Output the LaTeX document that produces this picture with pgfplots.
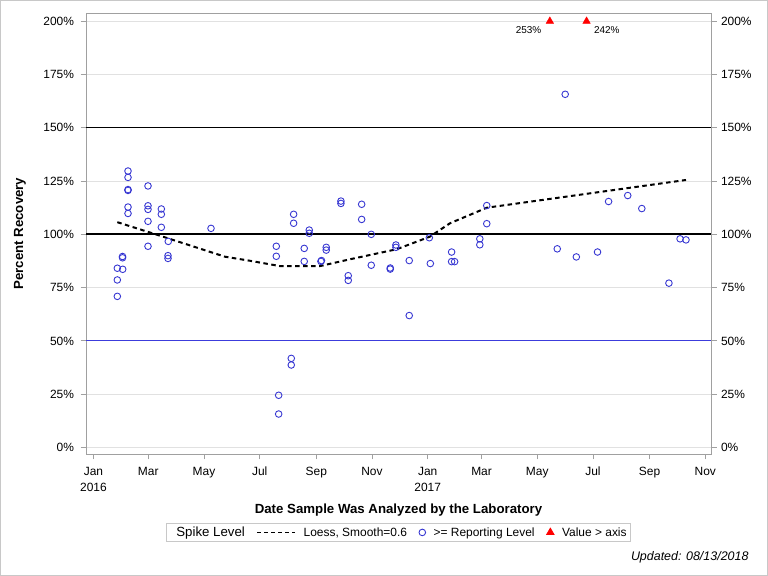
\documentclass[border=0pt]{standalone}
\usepackage{fontspec}
\setmainfont{Liberation Sans}
\usepackage{pgfplots}
\pgfplotsset{compat=1.18}
\definecolor{cblue}{RGB}{55,55,210}
\definecolor{lblue}{RGB}{60,60,220}
\definecolor{framec}{RGB}{160,160,160}
\definecolor{gridc}{RGB}{225,225,225}
\definecolor{legc}{RGB}{200,200,200}
\begin{document}
\begin{tikzpicture}[x=1bp,y=1bp]
\useasboundingbox (0,0) rectangle (768,576);
\draw[legc, line width=1.2bp] (0.6,0.6) rectangle (767.4,575.4);
\begin{axis}[
  at={(86bp,122bp)}, anchor=south west,
  scale only axis, width=625bp, height=440.7bp,
  xmin=-8.2, xmax=676.3, ymin=-3.05, ymax=203.7,
  axis line style={framec, line width=0.9bp},
  tick style={framec, line width=0.9bp},
  tick align=outside, major tick length=5.5bp,
  /pgf/number format/assume math mode=true,
  xtick={0,60,121,182,244,305,366,425,486,547,609,670},
  xticklabels={\strut Jan\\2016,\strut Mar,\strut May,\strut Jul,\strut Sep,\strut Nov,\strut Jan\\2017,\strut Mar,\strut May,\strut Jul,\strut Sep,\strut Nov},
  xticklabel style={align=center, font=\fontsize{12}{16}\selectfont, anchor=north},
  xticklabel shift=1.5bp,
  ytick={0,25,...,200},
  yticklabels={0\%,25\%,50\%,75\%,100\%,125\%,150\%,175\%,200\%},
  yticklabel style={font=\fontsize{12}{14}\selectfont, xshift=-3bp},
  ytick pos=left, xtick pos=bottom,
  ymajorgrids, grid style={gridc, line width=1bp},
  xlabel={Date Sample Was Analyzed by the Laboratory},
  ylabel={Percent Recovery},
  label style={font=\fontsize{13.3}{16}\selectfont\bfseries},
  xlabel style={at={(axis description cs:0.5,-0.127)}, anchor=center},
  ylabel style={at={(axis description cs:-0.1056,0.5)}, anchor=center},
  legend columns=4,
  legend cell align=left,
  legend style={at={(0.5,-0.178)}, anchor=center, draw=legc, line width=0.8bp,
    font=\fontsize{12}{14}\selectfont, inner sep=1.5bp,
    /tikz/every odd column/.append style={column sep=6bp},
    /tikz/every even column/.append style={column sep=10bp}},
]
% reference lines
\addplot[black, line width=0.8bp, forget plot] coordinates {(-8.2,150) (676.3,150)};
\addplot[black, line width=2bp, forget plot] coordinates {(-8.2,100) (676.3,100)};
\addplot[lblue, line width=1bp, forget plot] coordinates {(-8.2,50) (676.3,50)};

\addlegendimage{empty legend}
\addlegendentry{\fontsize{13.3}{16}\selectfont Spike Level}

% Loess fit
\addplot[black, line width=2bp, dash pattern=on 4.5bp off 3.5bp,
  legend image code/.code={\draw[black, line width=0.8bp, dash pattern=on 4bp off 3bp] (0bp,0bp) -- (38bp,0bp);}]
  coordinates {
  (26.1,105.7) (67.4,100.1) (144.0,89.5) (171.4,87.6) (204.2,85.1)
  (248.0,85.1) (280.9,88.3) (332.0,93.0) (368.4,98.9) (390.4,105.2)
  (430.8,112.5) (648.9,125.5)
  };
\addlegendentry{Loess, Smooth=0.6}

% Spike recoveries
\addplot[only marks, mark=o, cblue, mark size=3.3bp, mark options={line width=0.9bp}]
  table[row sep=\\] {
  x y \\
  26.1 70.9 \\ 26.1 78.6 \\ 26.1 84.1 \\
  31.8 89.0 \\ 31.8 89.6 \\ 32.0 83.6 \\
  37.8 129.7 \\ 37.8 126.7 \\ 37.8 121.0 \\ 37.8 120.6 \\ 37.8 112.8 \\ 37.8 109.8 \\
  59.7 122.7 \\ 59.7 113.4 \\ 59.7 111.7 \\ 59.7 106.1 \\ 59.7 94.4 \\
  74.3 111.9 \\ 74.3 109.4 \\ 74.3 103.3 \\
  81.9 96.7 \\ 81.6 90.0 \\ 81.6 88.7 \\
  128.7 102.8 \\
  200.2 94.4 \\ 200.2 89.7 \\
  202.8 24.5 \\ 202.8 15.7 \\
  216.6 41.8 \\ 216.6 38.7 \\
  219.2 109.4 \\ 219.2 105.2 \\
  230.8 93.4 \\ 230.8 87.3 \\
  236.3 102.0 \\ 236.3 100.5 \\
  249.1 87.3 \\ 249.7 87.7 \\
  254.9 93.9 \\ 254.9 92.6 \\
  271.0 115.6 \\ 271.0 114.5 \\
  279.0 80.6 \\ 279.0 78.4 \\
  293.7 114.1 \\ 293.7 107.0 \\
  304.2 100.0 \\ 304.2 85.5 \\
  325.0 84.2 \\ 325.0 83.7 \\
  331.2 95.0 \\ 331.2 93.9 \\
  345.8 87.7 \\ 345.8 61.9 \\
  367.8 98.4 \\ 368.9 86.3 \\
  392.2 91.7 \\ 392.2 87.2 \\ 395.5 87.2 \\
  423.1 97.9 \\ 423.1 95.1 \\
  430.7 113.5 \\ 430.7 105.0 \\
  507.9 93.2 \\ 516.6 165.7 \\ 528.8 89.4 \\ 552.0 91.7 \\
  564.1 115.4 \\ 585.1 118.2 \\ 600.5 112.1 \\ 630.2 77.1 \\
  642.4 97.9 \\ 648.9 97.4 \\
  };
\addlegendentry{>= Reporting Level}

% Values above the axis
\addplot[only marks, mark=triangle*, red, mark size=4.3bp, mark options={draw=red, fill=red}]
  coordinates {(499.8,200) (540.0,200)};
\addlegendentry{Value > axis}

\node[font=\fontsize{10}{12}\selectfont, anchor=east, xshift=-5bp, yshift=-8.5bp] at (axis cs:499.8,200) {253\%};
\node[font=\fontsize{10}{12}\selectfont, anchor=west, xshift=4bp, yshift=-8.5bp] at (axis cs:540.0,200) {242\%};
\end{axis}
\begin{axis}[
  at={(86bp,122bp)}, anchor=south west,
  scale only axis, width=625bp, height=440.7bp,
  xmin=-8.2, xmax=676.3, ymin=-3.05, ymax=203.7,
  hide x axis,
  axis y line*=right,
  axis line style={framec, line width=0.9bp},
  tick style={framec, line width=0.9bp},
  tick align=outside, major tick length=5.5bp,
  ytick={0,25,...,200},
  yticklabels={0\%,25\%,50\%,75\%,100\%,125\%,150\%,175\%,200\%},
  yticklabel style={font=\fontsize{12}{14}\selectfont, xshift=1bp},
]
\end{axis}
\node[anchor=base east, font=\fontsize{12.5}{15}\selectfont\itshape] at (752,15) {Updated: 08/13/2018};
\end{tikzpicture}
\end{document}
